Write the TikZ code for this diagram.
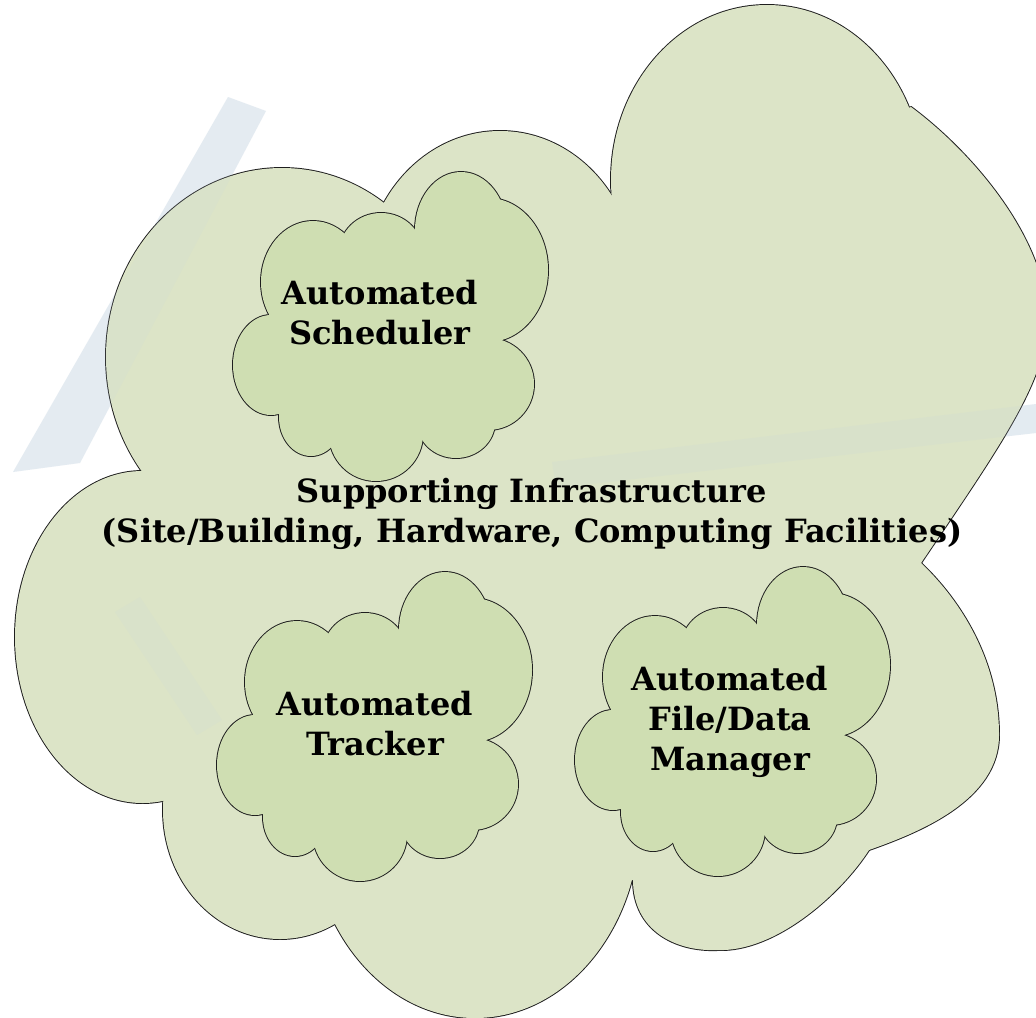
\documentclass[tikz,border=0pt]{standalone}
\usepackage{fontspec}
\setmainfont{DejaVu Serif}
\definecolor{bigcol}{RGB}{220,228,199}
\definecolor{smallcol}{RGB}{207,222,178}
\definecolor{edgecol}{RGB}{30,30,30}
\definecolor{wmcol}{RGB}{196,212,226}
\tikzset{
  rim/.style={draw=edgecol, line width=0.95pt, line join=round, fill=none},
  bigfill/.style={fill=bigcol, draw=none},
  smallfill/.style={fill=smallcol, draw=none},
  lab/.style={font=\bfseries\fontsize{16pt}{20pt}\selectfont, align=center, inner sep=0pt, text=black},
  wm/.style={fill=wmcol, draw=none},
  % lobes of the large cloud (picture pixels)
  bA/.style={insert path={(142.6,637) ellipse [x radius=127.6, y radius=166]}},
  bB/.style={insert path={(282,357) ellipse [x radius=176, y radius=189]}},
  bC/.style={insert path={(500,281) ellipse [x radius=136, y radius=150]}},
  bD/.style={insert path={(767,180) ellipse [x radius=156, y radius=175]}},
  bE/.style={insert path={(911,107) .. controls (973,153) and (1047,240) .. (1047,320) .. controls (1047,380) and (1000,446) .. (921,563) -- (850,330) -- cycle}},
  bF/.style={insert path={(921,563) .. controls (960,600) and (999,660) .. (999,735) .. controls (999,800) and (920,832) .. (869,850) -- (800,650) -- cycle}},
  bG/.style={insert path={(869,850) .. controls (840,895) and (775,952) .. (718,950) .. controls (675,952) and (633,930) .. (633,880) -- (750,780) -- cycle}},
  bH/.style={insert path={(475,818) ellipse [x radius=165, y radius=200]}},
  bI/.style={insert path={(280,810) ellipse [x radius=117, y radius=129]}},
  bCore/.style={insert path={(165,480) -- (396,222) -- (612,212) -- (911,107) -- (921,563) -- (869,850) -- (633,880) -- (340,905) -- (180,790) -- cycle}},
  % lobes of a small cloud (local pixels, 315 x 309 box)
  sA/.style={insert path={(38,193) ellipse [x radius=38, y radius=50]}},
  sB/.style={insert path={(80,110) ellipse [x radius=52, y radius=61]}},
  sC/.style={insert path={(148,81) ellipse [x radius=42, y radius=40]}},
  sD/.style={insert path={(228,58) ellipse [x radius=46, y radius=58]}},
  sE/.style={insert path={(255,98) ellipse [x radius=60, y radius=72]}},
  sF/.style={insert path={(255,212) ellipse [x radius=46, y radius=46]}},
  sG/.style={insert path={(223,250) ellipse [x radius=39, y radius=36]}},
  sH/.style={insert path={(143,262) ellipse [x radius=47, y radius=47]}},
  sI/.style={insert path={(78,245) ellipse [x radius=32, y radius=39]}},
  sCore/.style={insert path={(52,145) -- (118,70) -- (180,68) -- (257,46) -- (262,169) -- (249,245) -- (185,253) -- (105,265) -- (59,231) -- cycle}},
  smallcloud/.pic={
    \foreach \p in {sA,sB,sC,sD,sE,sF,sG,sH,sI} {\path[rim,\p];}
    \foreach \p in {sA,sB,sC,sD,sE,sF,sG,sH,sI,sCore} {\path[smallfill,\p];}
  }
}
\begin{document}
\begin{tikzpicture}[x=0.5pt,y=-0.5pt]
\useasboundingbox (0,0) rectangle (1036,1017);
\fill[white] (0,0) rectangle (1036,1017);
\clip (0,0) rectangle (1036,1017);
% faint watermark (under the cloud)
\fill[wm, opacity=0.36] (228,97) -- (266,111) -- (80,463) -- (13,472) -- cycle;
\fill[wm, opacity=0.36] (552,462) -- (1036,404) -- (1036,433) -- (556,488) -- cycle;
% large cloud: outline of every lobe, then all fills
\foreach \p in {bA,bB,bC,bD,bE,bF,bG,bH,bI} {\path[rim,\p];}
\foreach \p in {bA,bB,bC,bD,bE,bF,bG,bH,bI,bCore} {\path[bigfill,\p];}
% small clouds
\begin{scope}[shift={(233,172)}, xscale=0.9492, yscale=0.9450]
  \pic {smallcloud};
\end{scope}
\begin{scope}[shift={(217,572)}]
  \pic {smallcloud};
\end{scope}
\begin{scope}[shift={(575,567)}, yscale=0.9903]
  \pic {smallcloud};
\end{scope}
% watermark showing faintly through
\fill[wm, opacity=0.12] (228,97) -- (266,111) -- (80,463) -- (13,472) -- cycle;
\fill[wm, opacity=0.14] (552,462) -- (1036,404) -- (1036,433) -- (556,488) -- cycle;
\fill[wm, opacity=0.12] (115,612) -- (140,597) -- (222,720) -- (197,735) -- cycle;
% labels
\node[lab] (sched) at (380,313) {Automated\\Scheduler};
\node[lab] (infra) at (532,514) {Supporting Infrastructure\\(Site/Building, Hardware, Computing Facilities)};
\node[lab] (track) at (375,724) {Automated\\Tracker};
\node[lab] (files) at (730,722) {Automated\\File/Data\\Manager};
\end{tikzpicture}
\end{document}
